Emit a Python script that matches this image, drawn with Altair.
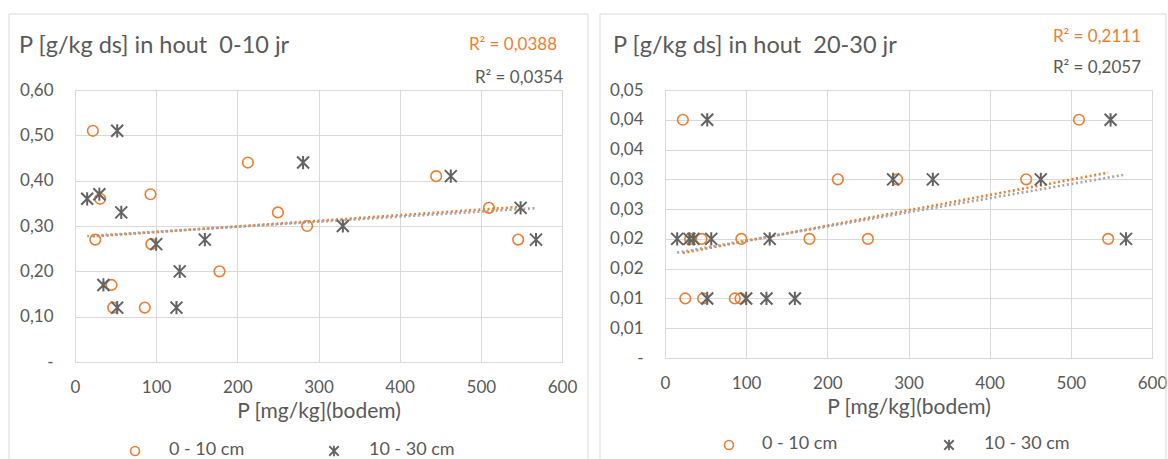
import altair as alt
import pandas as pd

SERIES = ["0 - 10 cm", "10 - 30 cm"]

# soil P [mg/kg] per sample (x), shared by both panels
x_0_10 = [22, 25, 31, 45, 47, 86, 93, 94, 178, 213, 250, 286, 445, 510, 546]
x_10_30 = [15, 30, 35, 52, 52, 57, 100, 125, 129, 160, 281, 330, 463, 549, 568]

# P [g/kg ds] in wood, 0-10 yr
y_young_0_10 = [0.51, 0.27, 0.36, 0.17, 0.12, 0.12, 0.37, 0.26, 0.20, 0.44, 0.33, 0.30, 0.41, 0.34, 0.27]
y_young_10_30 = [0.36, 0.37, 0.17, 0.51, 0.12, 0.33, 0.26, 0.12, 0.20, 0.27, 0.44, 0.30, 0.41, 0.34, 0.27]

# P [g/kg ds] in wood, 20-30 yr
y_old_0_10 = [0.04, 0.01, 0.02, 0.02, 0.01, 0.01, 0.01, 0.02, 0.02, 0.03, 0.02, 0.03, 0.03, 0.04, 0.02]
y_old_10_30 = [0.02, 0.02, 0.02, 0.04, 0.01, 0.02, 0.01, 0.01, 0.02, 0.01, 0.03, 0.03, 0.03, 0.04, 0.02]

x_ticks = [0, 100, 200, 300, 400, 500, 600]
y_ticks_young = [0, 0.1, 0.2, 0.3, 0.4, 0.5, 0.6]
y_ticks_old = [0, 0.005, 0.01, 0.015, 0.02, 0.025, 0.03, 0.035, 0.04, 0.045]

titles = ["P [g/kg ds] in hout\u00a0 0-10 jr", "P [g/kg ds] in hout\u00a0 20-30 jr"]
r2_young = ["R\u00b2 = 0,0388", "R\u00b2 = 0,0354"]
r2_old = ["R\u00b2 = 0,2111", "R\u00b2 = 0,2057"]

ORANGE = "#ED7D31"
STAR = "#636363"
TREND_GRAY = "#A5A5A5"
TEXT = "#595959"
GRID = "#D9D9D9"
FONT = "Lato"
STAR_PATH = "M-1,-1L1,1M-1,1L1,-1M0,-1.1L0,1.1"

LABEL_EXPR = ("datum.value == 0 ? '-' : "
              "replace(format(round(datum.value * 100 + 1e-9) / 100, '.2f'), '.', ',')")


def text_layer(txt, x, y, align, size, color):
    return alt.Chart(pd.DataFrame({"t": [txt]})).mark_text(
        align=align, baseline="middle", fontSize=size, font=FONT, color=color
    ).encode(text="t:N", x=alt.value(x), y=alt.value(y))


def rule_layer(**enc):
    return alt.Chart(pd.DataFrame({"a": [0]})).mark_rule(color=GRID, strokeWidth=1).encode(
        **{k: alt.value(v) for k, v in enc.items()})


def symbol_layer(shape, color, x, y, size, sw):
    return alt.Chart(pd.DataFrame({"a": [0]})).mark_point(
        shape=shape, filled=False, color=color, size=size, strokeWidth=sw, opacity=1
    ).encode(x=alt.value(x), y=alt.value(y))


def panel(title, ya, yb, ymax, yticks, r2, height, geo):
    df = pd.DataFrame({
        "x": x_0_10 + x_10_30,
        "y": ya + yb,
        "s": [SERIES[0]] * len(x_0_10) + [SERIES[1]] * len(x_10_30),
    })
    xenc = alt.X("x:Q", scale=alt.Scale(domain=[0, 600], nice=False, zero=False),
                 axis=alt.Axis(values=x_ticks, title="P [mg/kg](bodem)", grid=True,
                               gridColor=GRID, domain=False, ticks=False, labelFlush=False,
                               labelOverlap=False,
                               labelPadding=17, labelFontSize=17, labelFont=FONT,
                               labelColor=TEXT, titleFontSize=21, titleFont=FONT,
                               titleColor=TEXT, titleFontWeight="normal", titlePadding=5))
    yenc = alt.Y("y:Q", scale=alt.Scale(domain=[0, ymax], nice=False),
                 axis=alt.Axis(values=yticks, labelExpr=LABEL_EXPR, title=None, grid=True,
                               gridColor=GRID, domain=False, ticks=False, labelPadding=22,
                               labelOverlap=False, labelFlush=False,
                               labelFontSize=17, labelFont=FONT, labelColor=TEXT))
    base = alt.Chart(df)
    points = base.mark_point(filled=False, opacity=1).encode(
        x=xenc, y=yenc,
        color=alt.Color("s:N", scale=alt.Scale(domain=SERIES, range=[ORANGE, STAR]), legend=None),
        shape=alt.Shape("s:N", scale=alt.Scale(domain=SERIES, range=["circle", STAR_PATH]), legend=None),
        size=alt.Size("s:N", scale=alt.Scale(domain=SERIES, range=[112, 144]), legend=None),
        strokeWidth=alt.StrokeWidth("s:N", scale=alt.Scale(domain=SERIES, range=[1.6, 2.0]), legend=None),
    )
    trend = base.transform_regression("x", "y", groupby=["s"]).mark_line(
        strokeDash=[2, 2.6], strokeWidth=2.6
    ).encode(
        x=xenc, y=yenc,
        stroke=alt.Stroke("s:N", scale=alt.Scale(domain=SERIES, range=[ORANGE, TREND_GRAY]), legend=None),
        order=alt.Order("s:N", sort="descending"),
    )
    L, T, R = geo["border"]
    lx = geo["leg"]
    ly = geo["legy"]
    layers = [
        rule_layer(x=L, y=T, y2=370),
        rule_layer(x=R, y=T, y2=370),
        rule_layer(x=L, x2=R, y=T),
        text_layer(title, geo["tx"], -44, "left", 23.5, TEXT),
        text_layer(r2[0], geo["r2x"][0], geo["r2y"][0], "right", 17, ORANGE),
        text_layer(r2[1], geo["r2x"][1], geo["r2y"][1], "right", 17, TEXT),
        trend,
        points,
        # legend
        symbol_layer("circle", ORANGE, lx[0], ly, 80, 1.6),
        text_layer(SERIES[0], lx[1], ly - 1, "left", 18, TEXT),
        symbol_layer(STAR_PATH, STAR, lx[2], ly, 90, 1.8),
        text_layer(SERIES[1], lx[3], ly - 1, "left", 18, TEXT),
    ]
    return alt.layer(*layers).properties(width=487, height=height)


left = panel(titles[0], y_young_0_10, y_young_10_30, 0.6, y_ticks_young, r2_young, 272,
             {"leg": (60, 94, 259, 294), "legy": 361, "border": (-66, -76, 513), "tx": -56,
              "r2x": (482, 488), "r2y": (-45, -12)})
right = panel(titles[1], y_old_0_10, y_old_10_30, 0.045, y_ticks_old, r2_old, 268,
              {"leg": (64, 97, 284, 319), "legy": 355, "border": (-65, -76, 501), "tx": -52,
               "r2x": (476, 476), "r2y": (-53, -22)})

chart = alt.hconcat(left, right, spacing=103, bounds="flush").resolve_scale(
    color="independent", shape="independent", stroke="independent",
    size="independent", strokeWidth="independent"
).properties(
    padding={"left": 8, "top": 13, "right": 0, "bottom": 0}
).configure_view(stroke=GRID).configure(background="white")

chart.save("out.html", embed_options={"renderer": "svg", "actions": False})
